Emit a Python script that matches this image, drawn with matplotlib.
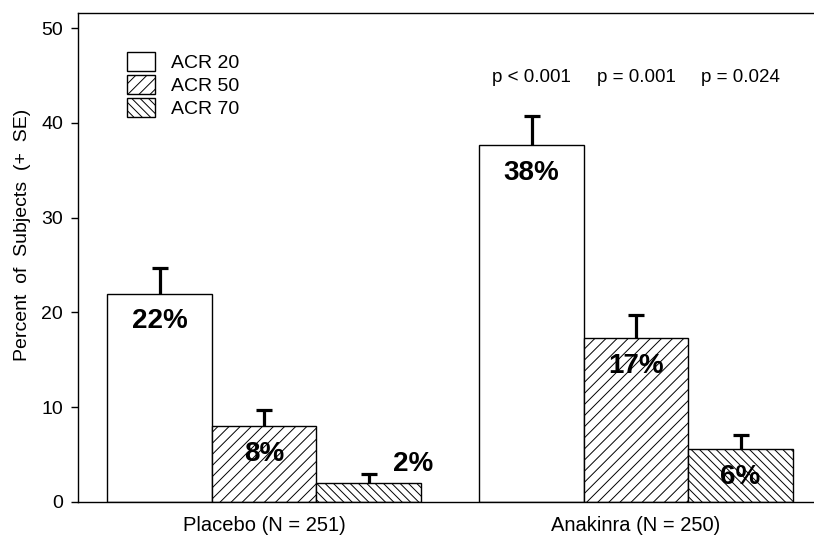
import numpy as np
import matplotlib
matplotlib.use("Agg")
import matplotlib.pyplot as plt

plt.rcParams['font.family'] = ['Liberation Sans', 'DejaVu Sans']
plt.rcParams['hatch.linewidth'] = 0.7

# DATA
groups = ["Placebo (N = 251)", "Anakinra (N = 250)"]
series = ["ACR 20", "ACR 50", "ACR 70"]
values = {
    "ACR 20": [22.0, 37.7],
    "ACR 50": [8.0, 17.3],
    "ACR 70": [2.0, 5.6],
}
errors = {
    "ACR 20": [2.7, 3.0],
    "ACR 50": [1.7, 2.4],
    "ACR 70": [0.95, 1.45],
}
pct_labels = {
    "ACR 20": ["22%", "38%"],
    "ACR 50": ["8%", "17%"],
    "ACR 70": ["2%", "6%"],
}
p_values = ["p < 0.001", "p = 0.001", "p = 0.024"]
hatches = {"ACR 20": "", "ACR 50": "///", "ACR 70": "\\\\\\\\"}

# FIGURE
W, H = 814, 539
fig = plt.figure(figsize=(W / 100, H / 100), dpi=100)
ax = fig.add_axes([78 / W, 1 - 502 / H, (W - 78) / W, (502 - 13) / H])

group_x = np.array([0.0, 3.56])  # centre of middle bar in each group
width = 1.0

for i, s in enumerate(series):
    x = group_x + (i - 1) * width
    ax.bar(x, values[s], width=width, color="white", edgecolor="black",
           linewidth=1.0, hatch=hatches[s], label=s, zorder=2)
    top = np.array(values[s]) + np.array(errors[s])
    ax.vlines(x, values[s], top, color="black", linewidth=2.3, zorder=3)
    ax.plot(x, top, linestyle="none", marker="_", markersize=11,
            markeredgewidth=2.3, color="black", zorder=3)
    for j, xx in enumerate(x):
        if s == "ACR 70" and j == 0:
            offset = (32, 14)
        else:
            offset = (0, -20)
        ax.annotate(pct_labels[s][j], (xx, values[s][j]), xytext=offset,
                    textcoords="offset points", ha="center", va="center",
                    fontsize=20, fontweight="bold", zorder=4)
    ax.text(x[1], 44.8, p_values[i], ha="center", va="center", fontsize=13.5)

ax.set_xlim(-1.78, -1.78 + (W - 78) / 104.5)
ax.set_ylim(0, 51.6)
ax.set_yticks([0, 10, 20, 30, 40, 50])
ax.set_xticks(group_x)
ax.set_xticklabels(groups)
ax.tick_params(axis="y", direction="out", length=5.3, width=1, pad=5.5,
               labelsize=14)
ax.tick_params(axis="x", length=0, pad=10, labelsize=14.5)
ax.spines["right"].set_visible(False)
for sp in ["left", "top", "bottom"]:
    ax.spines[sp].set_linewidth(1.0)

ax.set_ylabel("Percent  of  Subjects  (+  SE)", fontsize=14)
ax.yaxis.set_label_coords(-0.064, 0.546)

leg = ax.legend(loc="upper left", bbox_to_anchor=(127 / W, 1 - 52 / H),
                bbox_transform=fig.transFigure, frameon=False, fontsize=14,
                borderpad=0, borderaxespad=0, handlelength=1.44,
                handleheight=1.13, labelspacing=0.15, handletextpad=0.82)

fig.savefig("out.png", dpi=100)
